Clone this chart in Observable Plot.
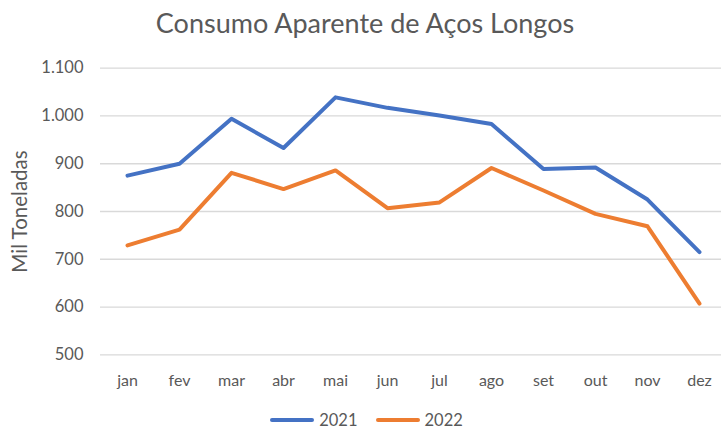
<!DOCTYPE html>
<html><head><meta charset="utf-8">
<script src="https://cdn.jsdelivr.net/npm/d3@7"></script>
<script src="https://cdn.jsdelivr.net/npm/@observablehq/plot@0.6"></script>
<style>
body{margin:0;background:#fff;font-family:Lato,"Open Sans",sans-serif;color:#595959}
#wrap{position:relative;width:721px;height:429px}
#title{position:absolute;top:6px;left:0;width:730px;text-align:center;font-size:27px;color:#595959}
#legend{position:absolute;top:410px;left:6px;width:721px;display:flex;justify-content:center;gap:18px;font-size:16.5px;color:#595959}
.item{display:flex;align-items:center;gap:5px}
.sw{display:inline-block;width:44px;height:4px;border-radius:2px}
</style></head><body>
<div id="wrap"><div id="title">Consumo Aparente de Aços Longos</div><div id="chart"></div><div id="legend"></div></div>
<script>
const months = ["jan","fev","mar","abr","mai","jun","jul","ago","set","out","nov","dez"];
const series = ["2021","2022"];
const v2021 = [875,900,994,933,1039,1017,1001,983,889,892,825,715];
const v2022 = [729,762,881,847,886,807,819,891,844,795,769,607];
const yTicks = [500,600,700,800,900,1000,1100];
const colors = ["#4472C4","#ED7D31"];
const yLabel = "Mil Toneladas";

const data = [];
months.forEach((m,i)=>{data.push({m, s:"2021", v:v2021[i]}); data.push({m, s:"2022", v:v2022[i]});});
const fmt = d3.formatLocale({decimal:",",thousands:".",grouping:[3],currency:["",""]}).format(",d");

const chart = Plot.plot({
  width:721, height:429,
  marginTop:67.7, marginBottom:74.7, marginLeft:100, marginRight:0,
  style:{fontFamily:"Lato, 'Open Sans', sans-serif", color:"#595959", background:"transparent"},
  x:{type:"point", domain:months, range:[126,699], padding:0},
  y:{domain:[500,1100]},
  color:{domain:series, range:colors},
  marks:[
    Plot.ruleY(yTicks,{stroke:"#D9D9D9", strokeWidth:1.3}),
    Plot.axisY({ticks:yTicks, tickFormat:fmt, tickSize:0, tickPadding:17, fontSize:16.5, label:null}),
    Plot.text([yLabel],{frameAnchor:"left", textAnchor:"middle", rotate:-90, dx:-80, fontSize:20.5, fill:"#595959"}),
    Plot.axisX({tickSize:0, tickPadding:20, fontSize:16, label:null}),
    Plot.line(data,{x:"m", y:"v", stroke:"s", z:"s", strokeWidth:4, strokeLinejoin:"round", strokeLinecap:"round"})
  ]
});
document.getElementById("chart").appendChild(chart);
const lg = document.getElementById("legend");
series.forEach((s,i)=>{
  const it=document.createElement("div"); it.className="item";
  it.innerHTML=`<span class="sw" style="background:${colors[i]}"></span><span>${s}</span>`;
  lg.appendChild(it);
});
</script>
</body></html>
